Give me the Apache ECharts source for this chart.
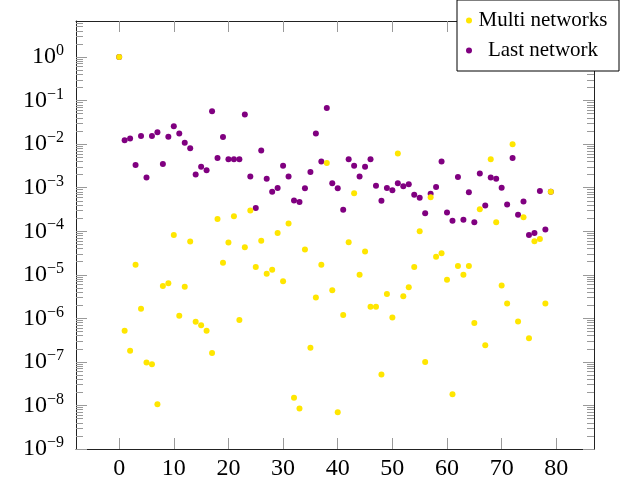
<!DOCTYPE html>
<html>
<head>
<meta charset="utf-8">
<script src="https://cdn.jsdelivr.net/npm/echarts@6/dist/echarts.min.js"></script>
<style>
  html, body { margin: 0; padding: 0; background: #fff; }
  #chart { width: 620px; height: 481px; }
</style>
</head>
<body>
<div id="chart"></div>
<script>
// values, one per step 0..79
const multiNetworks = [
  1.0, 5.2e-7, 1.8e-7, 1.7e-5, 1.66e-6, 9.7e-8, 8.8e-8, 1.07e-8, 5.5e-6, 6.4e-6,
  8.2e-5, 1.15e-6, 5.3e-6, 5.8e-5, 8.3e-7, 6.9e-7, 5.2e-7, 1.6e-7, 1.9e-4, 1.9e-5,
  5.5e-5, 2.2e-4, 9.2e-7, 4.3e-5, 3.0e-4, 1.5e-5, 6.0e-5, 1.05e-5, 1.3e-5, 9.1e-5,
  7.1e-6, 1.5e-4, 1.5e-8, 8.5e-9, 3.8e-5, 2.1e-7, 3.0e-6, 1.7e-5, 3.7e-3, 4.4e-6,
  7.0e-9, 1.2e-6, 5.6e-5, 7.4e-4, 1.0e-5, 3.4e-5, 1.85e-6, 1.85e-6, 5.1e-8, 3.6e-6,
  1.05e-6, 6.1e-3, 3.2e-6, 5.2e-6, 1.5e-5, 1.0e-4, 1.0e-7, 6.0e-4, 2.6e-5, 3.1e-5,
  7.7e-6, 1.8e-8, 1.6e-5, 1.0e-5, 1.6e-5, 7.8e-7, 3.2e-4, 2.4e-7, 4.5e-3, 1.6e-4,
  5.7e-6, 2.2e-6, 9.9e-3, 8.5e-7, 2.1e-4, 3.5e-7, 5.9e-5, 6.6e-5, 2.2e-6, 8.1e-4
];
const lastNetwork = [
  1.0, 0.0122, 0.0135, 0.0033, 0.0153, 0.0017, 0.0153, 0.0186, 0.0035, 0.0148,
  0.0258, 0.0174, 0.0108, 0.0080, 0.0020, 0.0030, 0.0025, 0.0569, 0.0048, 0.0145,
  0.0045, 0.0045, 0.0045, 0.0476, 0.0018, 3.4e-4, 0.0071, 0.0016, 8.1e-4, 9.8e-4,
  0.0032, 0.0018, 5.1e-4, 4.7e-4, 9.7e-4, 0.0023, 0.0174, 0.0040, 0.0677, 0.00126,
  9.7e-4, 3.1e-4, 0.0045, 0.0032, 0.0018, 0.0030, 0.0045, 0.0011, 5.0e-4, 9.8e-4,
  8.7e-4, 0.00126, 0.00107, 0.0012, 6.9e-4, 5.9e-4, 2.6e-4, 7.2e-4, 0.00104, 0.0040,
  2.7e-4, 1.74e-4, 0.00175, 1.83e-4, 7.8e-4, 1.6e-4, 0.0021, 3.9e-4, 0.0017, 0.0016,
  0.0010, 4.1e-4, 0.0048, 2.4e-4, 4.8e-4, 8.2e-5, 9.1e-5, 8.4e-4, 1.1e-4, 8.1e-4
];
const xTicks = [0, 10, 20, 30, 40, 50, 60, 70, 80];
const yTicks = [1e-9, 1e-8, 1e-7, 1e-6, 1e-5, 1e-4, 1e-3, 1e-2, 1e-1, 1];

// log minor ticks 2..9 inside each decade
const yMinorTicks = [];
for (let e = -9; e <= 0; e++) {
  for (let k = 2; k <= 9; k++) yMinorTicks.push(k * Math.pow(10, e));
}

const xMin = -7.9, xMax = 86.9;
const yMin = 1e-9, yMax = Math.pow(10, 0.826);

const serif = 'Liberation Serif';
const tickColor = '#9a9a9a';

function powLabel(value) {
  const e = Math.round(Math.log10(value));
  const exp = e < 0 ? '\u2212' + (-e) : String(e);
  return '{b|10}{s|' + exp + '}';
}

function xAxisOf(pos, labels) {
  return {
    type: 'value', position: pos, min: xMin, max: xMax,
    axisLine: { show: true, onZero: false, lineStyle: { color: '#222', width: 1 } },
    axisTick: { show: true, inside: true, length: 11, customValues: xTicks,
      lineStyle: { color: tickColor, width: 1 } },
    axisLabel: { show: labels, customValues: xTicks, margin: 8,
      fontFamily: serif, fontSize: 24, color: '#000' },
    splitLine: { show: false }
  };
}

function yAxisOf(pos, ticks, len, labels, line) {
  return {
    type: 'log', logBase: 10, position: pos, min: yMin, max: yMax,
    axisLine: { show: line, onZero: false, lineStyle: { color: '#222', width: 1 } },
    axisTick: { show: true, inside: true, length: len, customValues: ticks,
      lineStyle: { color: tickColor, width: 1 } },
    axisLabel: labels ? {
      show: true, customValues: yTicks, margin: 12, formatter: powLabel,
      rich: {
        b: { fontFamily: serif, fontSize: 24, color: '#000' },
        s: { fontFamily: serif, fontSize: 16, color: '#000', padding: [0, 0, 12, 0] }
      }
    } : { show: false },
    splitLine: { show: false },
    minorTick: { show: false }
  };
}

const chart = echarts.init(document.getElementById('chart'), null, { renderer: 'canvas' });

chart.setOption({
  animation: false,
  backgroundColor: '#fff',
  grid: { left: 76, right: 26, top: 21, bottom: 28, containLabel: false },
  legend: {
    data: ['Multi networks', 'Last network'],
    orient: 'vertical',
    left: 457, top: 0,
    padding: [10, 10, 10, 9],
    itemGap: 9,
    itemWidth: 6, itemHeight: 6,
    icon: 'circle',
    backgroundColor: '#fff',
    borderColor: '#000', borderWidth: 1, borderRadius: 0,
    formatter: function (name) { return '{t|' + name + '}'; },
    textStyle: {
      rich: {
        t: { fontFamily: serif, fontSize: 21, color: '#000', width: 132, align: 'center', lineHeight: 20 }
      }
    }
  },
  xAxis: [xAxisOf('bottom', true), xAxisOf('top', false)],
  yAxis: [
    yAxisOf('left', yTicks, 11, true, true),
    yAxisOf('left', yMinorTicks, 7, false, false),
    yAxisOf('right', yTicks, 11, false, true),
    yAxisOf('right', yMinorTicks, 7, false, false)
  ],
  series: [
    {
      name: 'Last network', type: 'scatter', symbol: 'circle', symbolSize: 6,
      itemStyle: { color: '#800080', opacity: 1 },
      data: lastNetwork.map(function (v, i) { return [i, v]; })
    },
    {
      name: 'Multi networks', type: 'scatter', symbol: 'circle', symbolSize: 6,
      itemStyle: { color: '#ffe600', opacity: 1 },
      data: multiNetworks.map(function (v, i) { return [i, v]; })
    }
  ]
});
</script>
</body>
</html>
